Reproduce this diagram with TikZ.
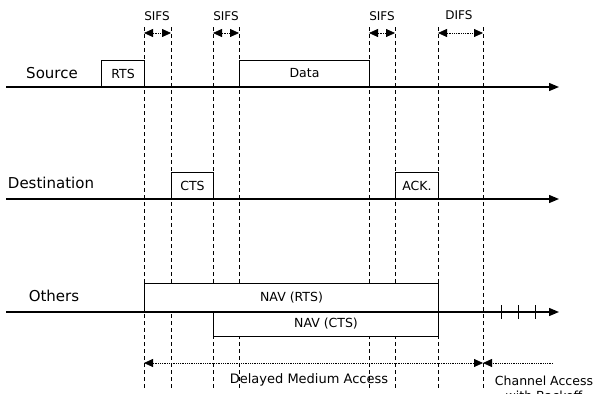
\documentclass[tikz,border=0pt]{standalone}
\usepackage{fontspec}
\setmainfont{DejaVu Sans}
\usetikzlibrary{arrows.meta}
\begin{document}
\begin{tikzpicture}[x=1pt,y=-1pt,
  axis/.style={line width=1.3pt,-{Triangle[length=10pt,width=8pt]}},
  frame/.style={draw,line width=1pt,fill=white,inner sep=0pt,anchor=south west},
  guide/.style={line width=0.9pt,dash pattern=on 4pt off 3pt},
  gap/.style={line width=0.8pt,densely dotted,{Triangle[length=9pt,width=8pt]}-{Triangle[length=9pt,width=8pt]}},
  gapone/.style={line width=0.8pt,densely dotted,-{Triangle[length=9pt,width=8pt]}},
  tick/.style={line width=0.9pt},
  big/.style={font=\fontsize{15}{18}\selectfont},
  boxtxt/.style={font=\fontsize{12.5}{15}\selectfont},
  small/.style={font=\fontsize{12}{14}\selectfont},
  mid/.style={font=\fontsize{13}{14}\selectfont},
  ]
\useasboundingbox (0,0) rectangle (598,394);

% vertical guide lines
\foreach \n/\x in {1/144,2/171,3/213,4/239,5/369,6/395,7/438,8/483} {
  \coordinate (t\n) at (\x,27);
  \coordinate (b\n) at (\x,388);
  \draw[guide] (t\n) -- (b\n);
}

% frames
\node[frame,minimum width=43pt,minimum height=26pt] (rts) at (101,87) {};
\node[boxtxt] (rtsl) at (rts.center) {RTS};
\node[frame,minimum width=130pt,minimum height=26pt] (data) at (239,87) {};
\node[boxtxt] (datal) at (data.center) {Data};
\node[frame,minimum width=42pt,minimum height=26pt] (cts) at (171,199) {};
\node[boxtxt] (ctsl) at (cts.center) {CTS};
\node[frame,minimum width=43pt,minimum height=26pt] (ack) at (395,199) {};
\node[boxtxt] (ackl) at (ack.center) {ACK.};
\node[frame,minimum width=294pt,minimum height=28pt] (navr) at (144,312) {};
\node[boxtxt] (navrl) at (navr.center) {NAV (RTS)};
\node[frame,minimum width=225pt,minimum height=25pt] (navc) at (213,337) {};
\node[boxtxt] (navcl) at (navc.center) {NAV (CTS)};

% time axes
\coordinate (s0) at (6,87);   \coordinate (s1) at (559,87);
\coordinate (d0) at (6,199);  \coordinate (d1) at (559,199);
\coordinate (o0) at (6,312);  \coordinate (o1) at (559,312);
\draw[axis] (s0) -- (s1);
\draw[axis] (d0) -- (d1);
\draw[axis] (o0) -- (o1);

% ticks on Others
\foreach \n/\x in {1/501,2/518,3/535} {
  \coordinate (k\n a) at (\x,305);
  \coordinate (k\n b) at (\x,319);
  \draw[tick] (k\n a) -- (k\n b);
}

% interval arrows
\coordinate (ay) at (0,33);
\draw[gap] (t1 |- ay) -- (t2 |- ay);
\draw[gap] (t3 |- ay) -- (t4 |- ay);
\draw[gap] (t5 |- ay) -- (t6 |- ay);
\draw[gap] (t7 |- ay) -- (t8 |- ay);

\coordinate (by) at (0,363);
\coordinate (cend) at (553,363);
\draw[gap] (t1 |- by) -- (t8 |- by);
\draw[gapone] (cend) -- (t8 |- by);

% labels
\node[big] (src) at (52,73) {Source};
\node[big] (dst) at (51,183) {Destination};
\node[big] (oth) at (54,296) {Others};
\node[small] (sifs1) at (157,16) {SIFS};
\node[small] (sifs2) at (226,16) {SIFS};
\node[small] (sifs3) at (382,16) {SIFS};
\node[small] (difs) at (459,15) {DIFS};
\node[mid] (dma) at (309,380) {Delayed Medium Access};
\node[boxtxt,align=center,anchor=north] (ca) at (544,372) {Channel Access\\with Backoff};
\end{tikzpicture}
\end{document}
